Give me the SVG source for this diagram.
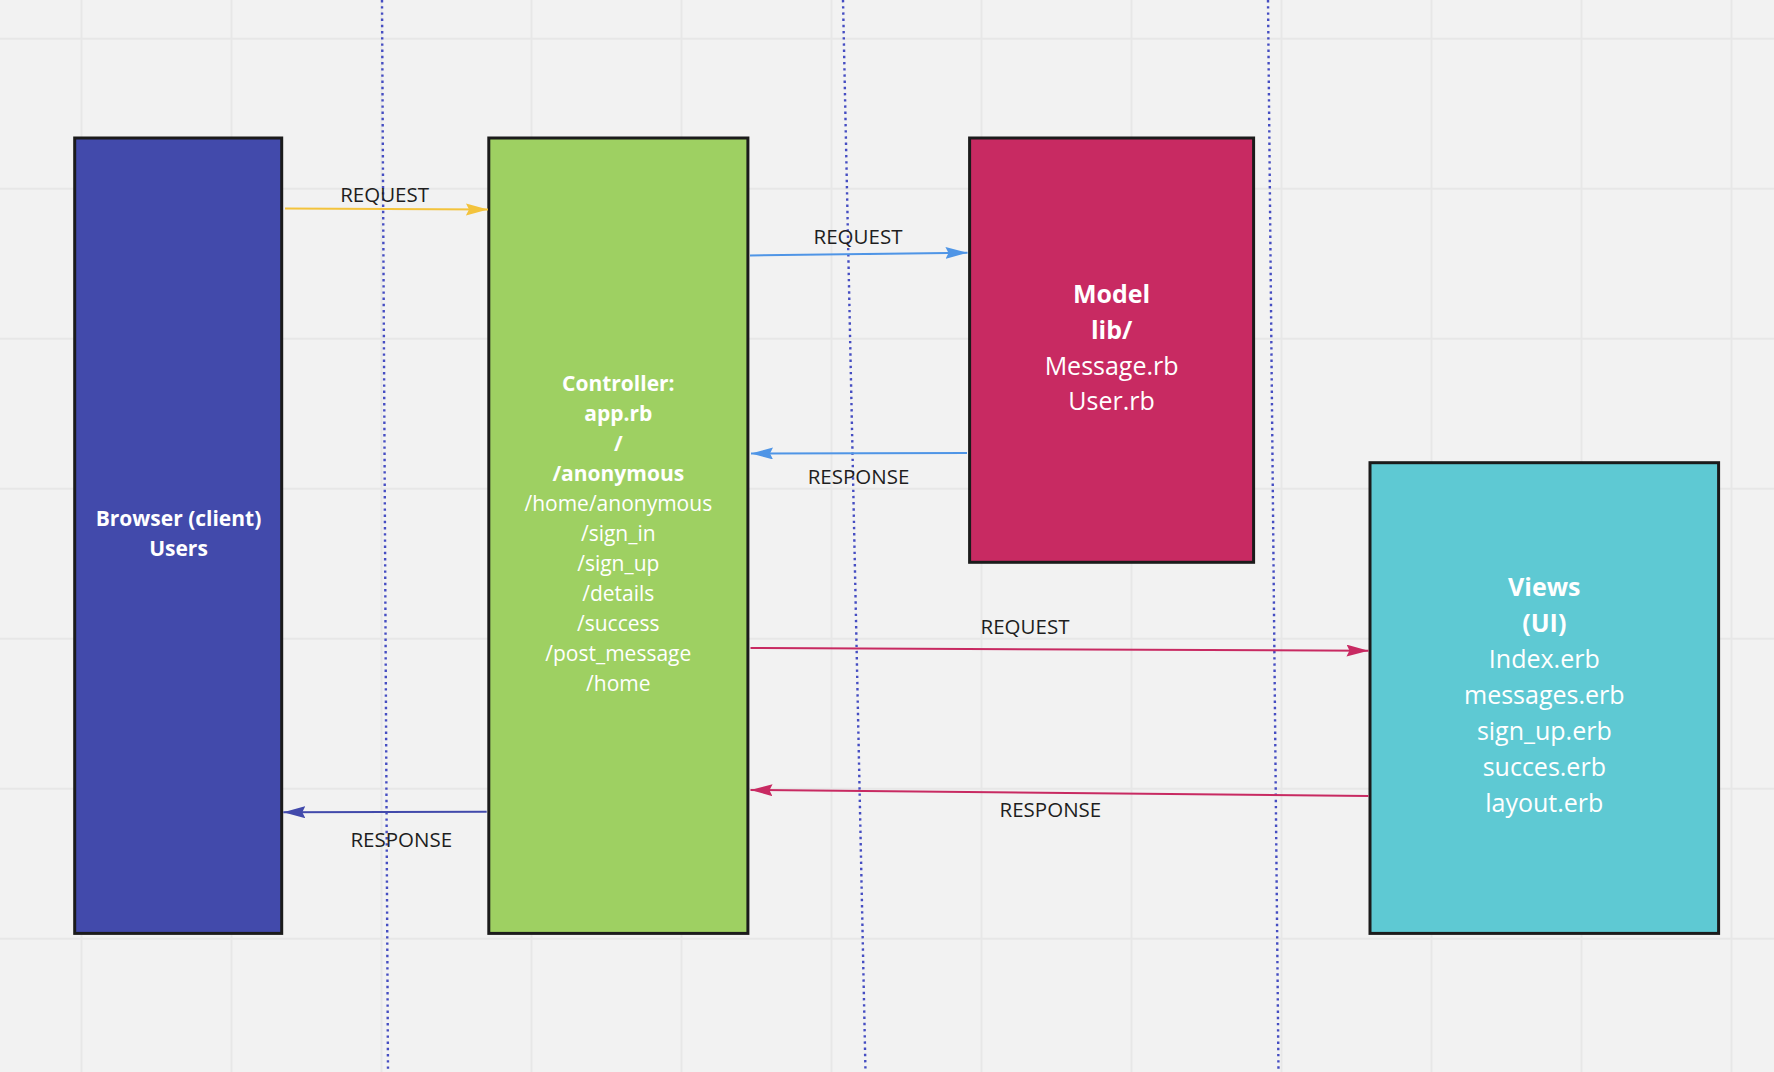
<svg xmlns="http://www.w3.org/2000/svg" width="1774" height="1072" viewBox="0 0 1774 1072">
<style>
.grid line{stroke:#e7e7e7;stroke-width:2}
.dots line{stroke:#454dc2;stroke-width:2.4;stroke-dasharray:2.4 3.8}
.box{stroke:#1b1b1b;stroke-width:3}
.t{font-family:"Open Sans",sans-serif;fill:#ffffff;text-anchor:middle}
.b{font-weight:bold}
.lbl{font-family:"Open Sans",sans-serif;font-size:20.5px;fill:#1e1e1e;text-anchor:middle}
.conn line{stroke-width:2;fill:none}
</style>
<defs>
<marker id="ay" markerUnits="userSpaceOnUse" markerWidth="24" markerHeight="14" refX="22" refY="6" orient="auto"><path d="M0,0 L22,6 L0,12 L3,6 Z" fill="#f3c33c"/></marker>
<marker id="ab" markerUnits="userSpaceOnUse" markerWidth="24" markerHeight="14" refX="22" refY="6" orient="auto"><path d="M0,0 L22,6 L0,12 L3,6 Z" fill="#4f95e6"/></marker>
<marker id="ap" markerUnits="userSpaceOnUse" markerWidth="24" markerHeight="14" refX="22" refY="6" orient="auto"><path d="M0,0 L22,6 L0,12 L3,6 Z" fill="#c82a62"/></marker>
<marker id="ai" markerUnits="userSpaceOnUse" markerWidth="24" markerHeight="14" refX="22" refY="6" orient="auto"><path d="M0,0 L22,6 L0,12 L3,6 Z" fill="#424aab"/></marker>
</defs>
<rect x="0" y="0" width="1774" height="1072" fill="#f2f2f2"/>
<g class="grid">
<line x1="81.5" y1="0" x2="81.5" y2="1072"/>
<line x1="231.5" y1="0" x2="231.5" y2="1072"/>
<line x1="381.5" y1="0" x2="381.5" y2="1072"/>
<line x1="531.5" y1="0" x2="531.5" y2="1072"/>
<line x1="681.5" y1="0" x2="681.5" y2="1072"/>
<line x1="831.5" y1="0" x2="831.5" y2="1072"/>
<line x1="981.5" y1="0" x2="981.5" y2="1072"/>
<line x1="1131.5" y1="0" x2="1131.5" y2="1072"/>
<line x1="1281.5" y1="0" x2="1281.5" y2="1072"/>
<line x1="1431.5" y1="0" x2="1431.5" y2="1072"/>
<line x1="1581.5" y1="0" x2="1581.5" y2="1072"/>
<line x1="1731.5" y1="0" x2="1731.5" y2="1072"/>
<line x1="0" y1="38.7" x2="1774" y2="38.7"/>
<line x1="0" y1="188.7" x2="1774" y2="188.7"/>
<line x1="0" y1="338.7" x2="1774" y2="338.7"/>
<line x1="0" y1="488.7" x2="1774" y2="488.7"/>
<line x1="0" y1="638.7" x2="1774" y2="638.7"/>
<line x1="0" y1="788.7" x2="1774" y2="788.7"/>
<line x1="0" y1="938.7" x2="1774" y2="938.7"/>
</g>
<g class="dots">
<line x1="382" y1="0" x2="388" y2="1072"/>
<line x1="843" y1="0" x2="865.5" y2="1072"/>
<line x1="1268" y1="0" x2="1278.5" y2="1072"/>
</g>
<g id="browser">
<rect class="box" x="74.7" y="138" width="207" height="795.4" fill="#424aab"/>
<text class="t b" font-size="21"><tspan x="178.5" y="525.5">Browser (client)</tspan><tspan x="178.5" y="555.5">Users</tspan></text>
</g>
<g id="controller">
<rect class="box" x="488.8" y="138" width="259.1" height="795.4" fill="#9ed062"/>
<text class="t" font-size="21"><tspan class="b" x="618.3" y="391">Controller:</tspan><tspan class="b" x="618.3" y="421">app.rb</tspan><tspan class="b" x="618.3" y="451">/</tspan><tspan class="b" x="618.3" y="481">/anonymous</tspan><tspan x="618.3" y="511">/home/anonymous</tspan><tspan x="618.3" y="541">/sign_in</tspan><tspan x="618.3" y="571">/sign_up</tspan><tspan x="618.3" y="601">/details</tspan><tspan x="618.3" y="631">/success</tspan><tspan x="618.3" y="661">/post_message</tspan><tspan x="618.3" y="691">/home</tspan></text>
</g>
<g id="model">
<rect class="box" x="969.6" y="138" width="284" height="424.3" fill="#c82a62"/>
<text class="t" font-size="25"><tspan class="b" x="1111.6" y="303.3">Model</tspan><tspan class="b" x="1111.6" y="339">lib/</tspan><tspan x="1111.6" y="374.5">Message.rb</tspan><tspan x="1111.6" y="410">User.rb</tspan></text>
</g>
<g id="views">
<rect class="box" x="1370" y="462.7" width="348.6" height="470.7" fill="#5ec9d3"/>
<text class="t" font-size="25"><tspan class="b" x="1544.3" y="595.7">Views</tspan><tspan class="b" x="1544.3" y="631.5">(UI)</tspan><tspan x="1544.3" y="668">Index.erb</tspan><tspan x="1544.3" y="704">messages.erb</tspan><tspan x="1544.3" y="740">sign_up.erb</tspan><tspan x="1544.3" y="776">succes.erb</tspan><tspan x="1544.3" y="812">layout.erb</tspan></text>
</g>
<g class="conn">
<line x1="285" y1="208.5" x2="488" y2="209.5" stroke="#f3c33c" marker-end="url(#ay)"/>
<text class="lbl" x="384.6" y="201.7">REQUEST</text>
<line x1="750" y1="255.5" x2="967.5" y2="252.7" stroke="#4f95e6" marker-end="url(#ab)"/>
<text class="lbl" x="858" y="244">REQUEST</text>
<line x1="967" y1="453" x2="751" y2="453.5" stroke="#4f95e6" marker-end="url(#ab)"/>
<text class="lbl" x="858.5" y="484">RESPONSE</text>
<line x1="750.5" y1="648" x2="1368.5" y2="650.7" stroke="#c82a62" marker-end="url(#ap)"/>
<text class="lbl" x="1025" y="634.3">REQUEST</text>
<line x1="1368.5" y1="796" x2="750.5" y2="790" stroke="#c82a62" marker-end="url(#ap)"/>
<text class="lbl" x="1050.4" y="816.5">RESPONSE</text>
<line x1="486.7" y1="811.7" x2="283.3" y2="812.3" stroke="#424aab" marker-end="url(#ai)"/>
<text class="lbl" x="401.3" y="846.7">RESPONSE</text>
</g>
</svg>
